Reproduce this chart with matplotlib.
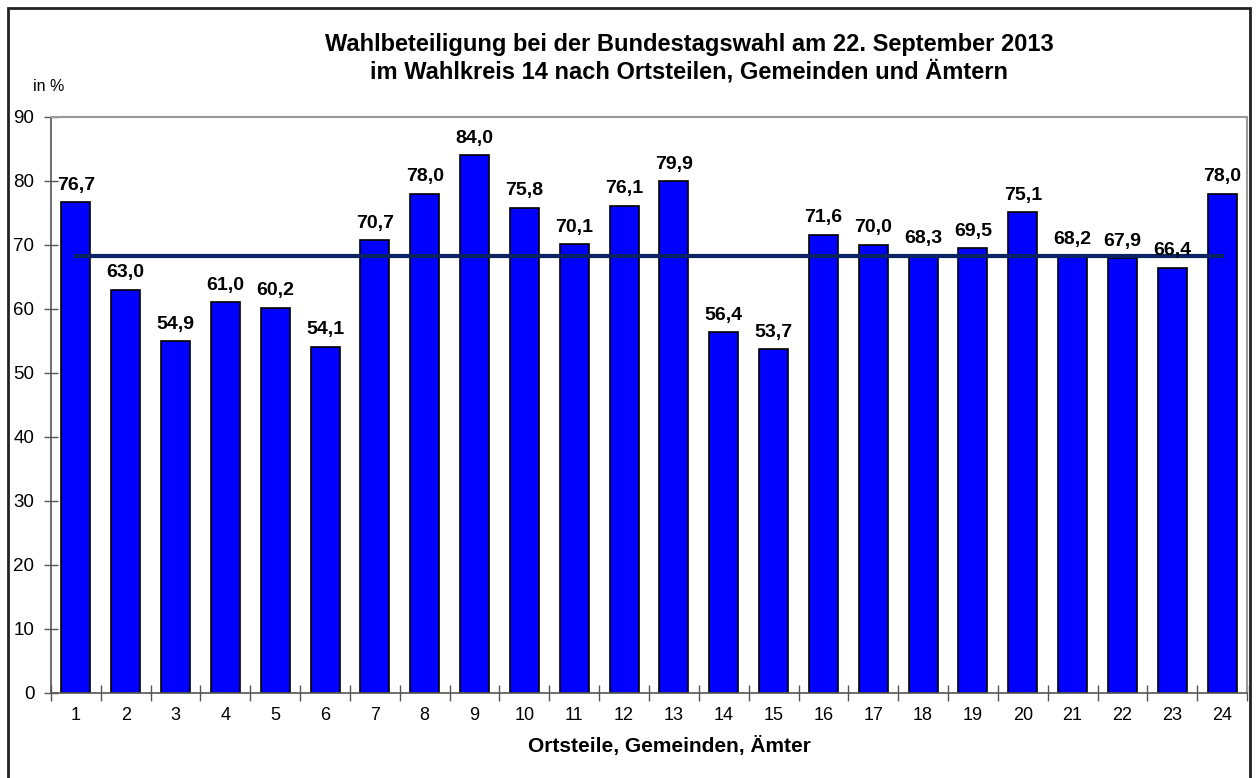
import matplotlib.pyplot as plt
from matplotlib.patches import Rectangle

plt.rcParams['font.family'] = ['Liberation Sans', 'DejaVu Sans']

# Wahlbeteiligung je Ortsteil / Gemeinde / Amt (in %)
bezirke = list(range(1, 25))
beteiligung = [76.7, 63.0, 54.9, 61.0, 60.2, 54.1, 70.7, 78.0, 84.0, 75.8, 70.1, 76.1,
               79.9, 56.4, 53.7, 71.6, 70.0, 68.3, 69.5, 75.1, 68.2, 67.9, 66.4, 78.0]
gesamt = 68.3


def fmt(v):
    return f"{v:.1f}".replace('.', ',')


fig = plt.figure(figsize=(12.58, 7.78), dpi=100)
ax = fig.add_axes([0.0405, 0.1093, 0.9508, 0.7407])

ax.bar(bezirke, beteiligung, width=0.58, color='#0000FF', edgecolor='black', linewidth=1.2, zorder=2)
ax.plot([bezirke[0], bezirke[-1]], [gesamt, gesamt], color='#0A2463', linewidth=3, zorder=3)

for x, v in zip(bezirke, beteiligung):
    ax.annotate(fmt(v), (x, v), xytext=(0, 6), textcoords='offset points',
                ha='center', va='bottom', fontsize=14, fontweight='bold')

ax.set_xlim(0.5, 24.5)
ax.set_ylim(0, 90)
ax.set_yticks(range(0, 91, 10))
ax.set_xticks(bezirke)
ax.set_xticks([b + 0.5 for b in [0] + bezirke], minor=True)
ax.tick_params(axis='x', which='major', length=0, labelsize=13, pad=10)
ax.tick_params(axis='x', which='minor', direction='inout', length=12, width=1, color='#555555')
ax.tick_params(axis='y', direction='inout', length=10, width=1, color='#555555', labelsize=13.5, pad=7)

for s in ['left', 'bottom']:
    ax.spines[s].set_color('#555555')
    ax.spines[s].set_linewidth(1.2)
for s in ['top', 'right']:
    ax.spines[s].set_color('#999999')
    ax.spines[s].set_linewidth(1.5)

fig.text(0.532, 0.041, "Ortsteile, Gemeinden, Ämter", fontsize=15, fontweight='bold',
         ha='center', va='center')
fig.text(0.548, 0.925, "Wahlbeteiligung bei der Bundestagswahl am 22. September 2013\n"
         "im Wahlkreis 14 nach Ortsteilen, Gemeinden und Ämtern",
         ha='center', va='center', fontsize=17, fontweight='bold', linespacing=1.2)
fig.text(0.026, 0.889, "in %", fontsize=11.5, ha='left', va='center')

# Rahmen um die Grafik
fig.patches.append(Rectangle((8 / 1258, -0.1), 1249 / 1258 - 8 / 1258 + 0.0005, 1.1 - 8 / 778,
                             transform=fig.transFigure, fill=False, edgecolor='#222222', linewidth=2))

fig.savefig("out.png", dpi=100)
plt.close(fig)
